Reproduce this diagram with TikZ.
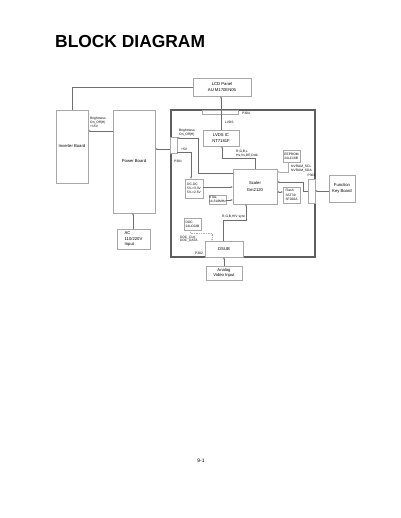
\documentclass[tikz,border=0pt]{standalone}
\usepackage{fontspec}
\setmainfont{Liberation Sans}
\usetikzlibrary{arrows.meta}
\definecolor{boxc}{HTML}{A8A8A8}
\definecolor{linec}{HTML}{6E6E6E}
\definecolor{mainc}{HTML}{5E5E5E}
\definecolor{dotc}{HTML}{B0B0B0}
\begin{document}
\begin{tikzpicture}[x=1pt,y=-1pt,
 bx/.style={draw=boxc, line width=0.5pt, fill=white, inner sep=0pt, font=\fontsize{4.2}{5.2}\selectfont, align=center},
 sbx/.style={bx, font=\fontsize{3.3}{4.2}\selectfont},
 sm/.style={inner sep=0pt, font=\fontsize{3.3}{3.9}\selectfont, align=left},
 ln/.style={draw=linec, line width=0.7pt},
 arr/.style={ln, -{Stealth[length=2.2pt,width=1.8pt]}},
 darr/.style={ln, {Stealth[length=2.2pt,width=1.8pt]}-{Stealth[length=2.2pt,width=1.8pt]}},
 ]
\useasboundingbox (0,0) rectangle (400,518);
\fill[white] (0,0) rectangle (400,518);

\node[anchor=base west, inner sep=0pt, font=\fontsize{17.4}{20}\selectfont\bfseries] (title) at (55,48) {BLOCK DIAGRAM};

% main board
\node[draw=mainc, line width=1.2pt, minimum width=144pt, minimum height=147pt, inner sep=0pt] (main) at (243,183.5) {};

% boxes
\node[bx, minimum width=58pt, minimum height=18pt] (lcd) at (222,87) {LCD Panel\\AU M170EN05};
\node[bx, minimum width=32pt, minimum height=73pt] (inv) at (72,146.5) {Inverter Board};
\node[bx, minimum width=42pt, minimum height=103pt] (power) at (134,161.5) {Power Board};
\node[bx, minimum width=33pt, minimum height=20pt, align=left] (ac) at (133.5,239) {AC\\110/220V\\Input};
\node[bx, minimum width=36pt, minimum height=4pt] (p304) at (220,112) {};
\node[bx, minimum width=36pt, minimum height=16pt] (lvds) at (221,138) {LVDS IC\\NT7181F};
\node[bx, minimum width=7pt, minimum height=16pt] (p301l) at (173.5,145) {};
\node[sbx, minimum width=18pt, minimum height=19pt, align=left] (dcdc) at (194,188.5) {DC-DC\\5V-{}>3.3V\\5V-{}>2.5V};
\node[sbx, minimum width=17pt, minimum height=9pt, align=left] (xtal) at (217.5,199.5) {XTAL\\14.318MHz};
\node[bx, minimum width=44pt, minimum height=35pt] (scaler) at (255,186.5) {Scaler\\[1pt]Gm2120};
\node[sbx, minimum width=17pt, minimum height=12pt, align=left] (eeprom) at (291.5,156) {EEPROM\\24LC16B};
\node[sbx, minimum width=17pt, minimum height=16pt, align=left] (flash) at (291.5,195) {Flash\\[1pt]SST39\\SF020A};
\node[bx, minimum width=7pt, minimum height=24pt] (p30r) at (311.5,191) {};
\node[bx, minimum width=26pt, minimum height=27pt] (fkb) at (342,188.5) {Function\\Key Board};
\node[sbx, minimum width=17pt, minimum height=12pt, align=left] (ddc) at (192.5,224) {DDC\\24LC02B};
\node[bx, minimum width=38pt, minimum height=16pt] (dsub) at (224,249) {DSUB};
\node[bx, minimum width=36pt, minimum height=14pt] (analog) at (224,273) {Analog\\Video Input};

% labels
\node[sm, anchor=west] (lp304) at (242,113) {P304};
\node[sm, anchor=west] (llvds) at (225,122) {LVDS};
\node[sm, anchor=south west] (linv) at (90,128) {Brightness\\On\_Off(H)\\+15V};
\node[sm, anchor=south west] (lbr) at (179,136) {Brightness\\On\_Off(H)};
\node[sm, anchor=south west] (l5v) at (181,151) {+5V};
\node[sm, anchor=west] (lp301l) at (174,161) {P301};
\node[sm, anchor=south west] (lrgb) at (236,157) {R,G,B,L\\Hs,Vs,DE,Dclk};
\node[sm, anchor=north west] (lnv) at (291,165) {NVRAM\_SCL\\NVRAM\_SDA};
\node[sm, anchor=west] (lp30r) at (307.5,175) {P303};
\node[sm, anchor=south west] (lrgbh) at (222,218.5) {R,G,B,H/V sync};
\node[sm, anchor=north west] (lddc) at (180,235.5) {DDC\_CLK\\DDC\_DATA};
\node[sm, anchor=west] (lp302) at (195,253.5) {P302};
\node[inner sep=0pt, font=\fontsize{5}{6}\selectfont] (page) at (201,461) {9-1};

% coordinates
\coordinate (xlv) at (221,0);
\coordinate (yinv) at (0,131);
\coordinate (yp) at (0,149);
\coordinate (br1) at (198,173);
\coordinate (br2) at (198,138);
\coordinate (v1) at (191,152);
\coordinate (ydc) at (0,187);
\coordinate (yxt) at (0,200);
\coordinate (r1) at (255,158);
\coordinate (r2) at (222,158);
\coordinate (e1) at (288,172);
\coordinate (k1) at (303,191);
\coordinate (k2) at (303,182);
\coordinate (yfl) at (0,192);
\coordinate (d1) at (223,220);
\coordinate (d2) at (246,220);
\coordinate (c1) at (190,233);
\coordinate (c2) at (212,233);
\coordinate (xan) at (224,0);
\coordinate (xac) at (133,0);

% connectors
\draw[arr] (lvds.north -| xlv) -- (lcd.south -| xlv);
\draw[ln] (lcd.west) -| (inv.north);
\draw[arr] (power.west |- yinv) -- (inv.east |- yinv);
\draw[arr] (p301l.west |- yp) -- (power.east |- yp);
\draw[arr] (scaler.west |- br1) -- (br1) -- (br2) -- (p301l.east |- br2);
\draw[arr] (p301l.east |- v1) -- (v1) -- (dcdc.north -| v1);
\draw[arr] (dcdc.east |- ydc) -- (scaler.west |- ydc);
\draw[arr] (xtal.east |- yxt) -- (scaler.west |- yxt);
\draw[arr] (scaler.north -| r1) -- (r1) -- (r2) -- (lvds.south -| r2);
\draw[arr, draw=dotc] (eeprom.south -| e1) -- (e1) -- (scaler.east |- e1);
\draw[arr] (fkb.west |- k1) -- (p30r.east |- k1);
\draw[arr] (p30r.west |- k1) -- (k1) -- (k2) -- (scaler.east |- k2);
\draw[darr] (scaler.east |- yfl) -- (flash.west |- yfl);
\draw[arr] (dsub.north -| d1) -- (d1) -- (d2) -- (scaler.south -| d2);
\draw[arr, draw=dotc, densely dotted] (ddc.south -| c1) -- (c1) -- (c2) -- (dsub.north -| c2);
\draw[arr] (analog.north -| xan) -- (dsub.south -| xan);
\draw[arr] (ac.north -| xac) -- (power.south -| xac);
\end{tikzpicture}
\end{document}
